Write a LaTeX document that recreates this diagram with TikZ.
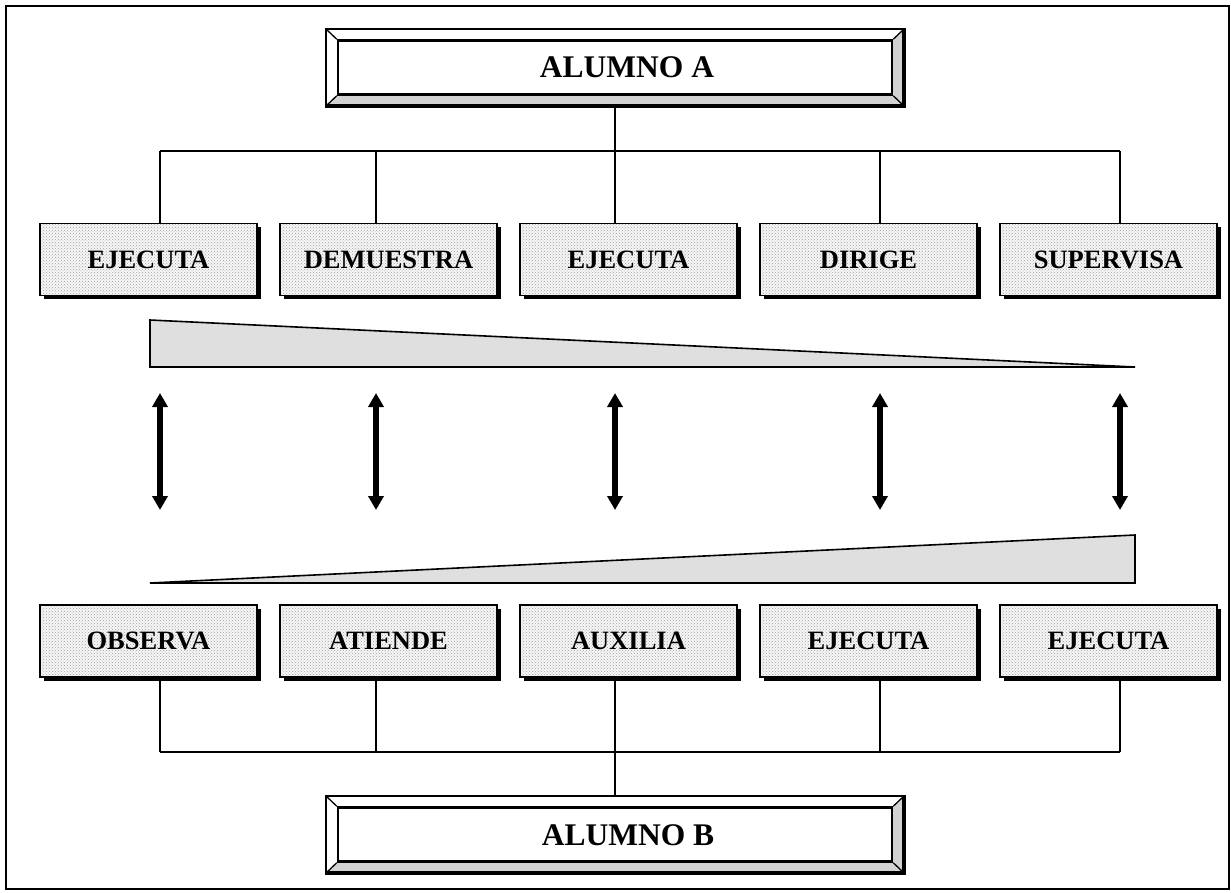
\documentclass[tikz,border=0pt]{standalone}
\usepackage{fontspec}
\setmainfont{Liberation Serif}
\usetikzlibrary{patterns,shadows,arrows.meta}
\begin{document}
\begin{tikzpicture}[x=1pt,y=-1pt,
  verb/.style={drop shadow={shadow xshift=3.5pt, shadow yshift=-3.5pt, fill=black, opacity=1},
    draw=black, line width=1.3pt, minimum width=217pt, minimum height=72pt,
    inner sep=0pt, font=\fontsize{26.5}{29}\selectfont\bfseries,
    preaction={fill=gray!6},
    pattern=crosshatch dots, pattern color=gray!75},
  outerbox/.style={draw=black, line width=2.5pt, fill=gray!35, minimum width=576pt, minimum height=75pt, inner sep=0pt},
  innerbox/.style={draw=black, line width=2.5pt, fill=white, minimum width=554pt, minimum height=54pt, inner sep=0pt},
  big/.style={font=\fontsize{31.5}{34}\selectfont\bfseries},
  conn/.style={draw=black, line width=1.6pt},
  arr/.style={line width=5.5pt, {Triangle[width=15pt,length=14pt]}-{Triangle[width=15pt,length=14pt]}},
  tri/.style={fill=gray!25, draw=black, line width=1.6pt, line join=miter}
]
\useasboundingbox (0,0) rectangle (1231,892);
\draw[line width=2.2pt] (6,6) rectangle (1229,889);

% ALUMNO A
\node[outerbox] (A) at (615,67.5) {};
\fill[white] (A.south west) -- (A.north west) -- (A.north east) -- (892,40.5) -- (338,40.5) -- (338,94.5) -- cycle;
\node[innerbox] (Ai) at (615,67.5) {};
\draw[line width=2.5pt] (A.south west) rectangle (A.north east);
\foreach \c in {north west,north east,south west,south east}
  \draw[line width=1.3pt] (A.\c) -- (Ai.\c);
\node[big] (At) at (627,67) {ALUMNO A};

% ALUMNO B
\node[outerbox] (B) at (615,834.5) {};
\fill[white] (B.south west) -- (B.north west) -- (B.north east) -- (892,807.5) -- (338,807.5) -- (338,861.5) -- cycle;
\node[innerbox] (Bi) at (615,834.5) {};
\draw[line width=2.5pt] (B.south west) rectangle (B.north east);
\foreach \c in {north west,north east,south west,south east}
  \draw[line width=1.3pt] (B.\c) -- (Bi.\c);
\node[big] (Bt) at (628,835) {ALUMNO B};

% top row
\node[verb] (t1) at (148.5,259.5) {EJECUTA};
\node[verb] (t2) at (388.5,259.5) {DEMUESTRA};
\node[verb] (t3) at (628.5,259.5) {EJECUTA};
\node[verb] (t4) at (868.5,259.5) {DIRIGE};
\node[verb] (t5) at (1108.5,259.5) {SUPERVISA};

% bottom row
\node[verb] (b1) at (148.5,641) {OBSERVA};
\node[verb] (b2) at (388.5,641) {ATIENDE};
\node[verb] (b3) at (628.5,641) {AUXILIA};
\node[verb] (b4) at (868.5,641) {EJECUTA};
\node[verb] (b5) at (1108.5,641) {EJECUTA};

% top connectors
\coordinate (h1) at (160,151);
\coordinate (h2) at (376,151);
\coordinate (h3) at (615,151);
\coordinate (h4) at (880,151);
\coordinate (h5) at (1120,151);
\draw[conn] (A.south) -- (h3);
\draw[conn] (h1) -- (h5);
\foreach \i in {1,...,5} \draw[conn] (h\i) -- (h\i |- t\i.north);

% bottom connectors
\coordinate (c1) at (160,752);
\coordinate (c2) at (376,752);
\coordinate (c3) at (615,752);
\coordinate (c4) at (880,752);
\coordinate (c5) at (1120,752);
\draw[conn] (c1) -- (c5);
\draw[conn] (c3) -- (B.north);
\foreach \i in {1,...,5} \draw[conn] (c\i |- b\i.south) -- (c\i);

% wedges
\draw[tri] (150,320) -- (150,367) -- (1135,367) -- cycle;
\draw[tri] (150,583) -- (1135,535) -- (1135,583) -- cycle;

% arrows
\foreach \i/\x in {1/160,2/376,3/615,4/880,5/1120}{
  \coordinate (u\i) at (\x,393);
  \coordinate (l\i) at (\x,510);
  \draw[arr] (u\i) -- (l\i);
}
\end{tikzpicture}
\end{document}
